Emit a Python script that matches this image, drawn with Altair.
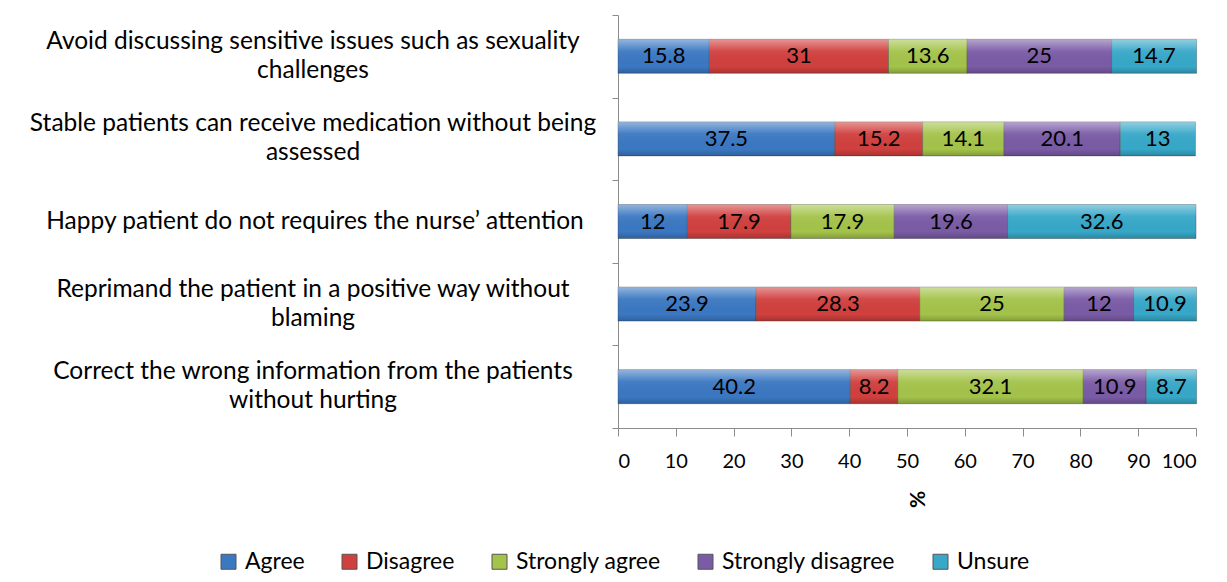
import altair as alt
import pandas as pd

categories = [
    "Avoid discussing sensitive issues such as sexuality|challenges",
    "Stable patients can receive  medication without being|assessed",
    "Happy patient do not requires the nurse’ attention",
    "Reprimand the patient  in a positive way without|blaming",
    "Correct the wrong information from the patients|without hurting",
]
series = ["Agree", "Disagree", "Strongly agree", "Strongly disagree", "Unsure"]
agree = [15.8, 37.5, 12, 23.9, 40.2]
disagree = [31, 15.2, 17.9, 28.3, 8.2]
strongly_agree = [13.6, 14.1, 17.9, 25, 32.1]
strongly_disagree = [25, 20.1, 19.6, 12, 10.9]
unsure = [14.7, 13, 32.6, 10.9, 8.7]
colors = ["#3B78C2", "#D0403E", "#A4C34A", "#7A5BA6", "#37A8C8"]

values = [agree, disagree, strongly_agree, strongly_disagree, unsure]
rows = []
for si, (s, vals) in enumerate(zip(series, values)):
    for c, v in zip(categories, vals):
        rows.append({"category": c, "series": s, "order": si, "value": v})
df = pd.DataFrame(rows)
cat_df = pd.DataFrame({"category": categories})

base = alt.Chart(df).transform_stack(
    stack="value", as_=["x0", "x1"], groupby=["category"],
    sort=[alt.SortField("order", order="ascending")],
).transform_calculate(
    mid="(datum.x0 + datum.x1) / 2", label="'' + datum.value"
)

yscale = alt.Scale(paddingInner=0, paddingOuter=0)
yenc = alt.Y(
    "category:N", sort=categories, scale=yscale,
    axis=alt.Axis(
        title=None, domainColor="#8c8c8c", tickColor="#8c8c8c", tickSize=6,
        tickBand="extent", labels=False,
    ),
)
xscale = alt.Scale(domain=[0, 100], nice=False)
xaxis = alt.Axis(
    values=list(range(0, 101, 10)), grid=False, tickSize=8,
    domainColor="#8c8c8c", tickColor="#8c8c8c", labelFontSize=20,
    labelColor="#000", labelFont="Lato", labelPadding=15,
    title="%", titleFontSize=21, titleFontWeight="bold", titleAngle=270,
    titleColor="#000", titlePadding=28, titleFont="Lato",
)

BAR_H = 34

bars = base.mark_bar(height=BAR_H, stroke="#333", strokeOpacity=0.35, strokeWidth=1).encode(
    x=alt.X("x0:Q", scale=xscale, axis=xaxis),
    x2="x1:Q",
    y=yenc,
    color=alt.Color(
        "series:N", sort=series,
        scale=alt.Scale(domain=series, range=colors),
        legend=alt.Legend(
            title=None, orient="none", direction="horizontal",
            legendX=-401, legendY=535, symbolType="square", symbolSize=225,
            labelFontSize=23, labelFont="Lato", labelColor="#000", labelLimit=0,
            columnPadding=33, labelOffset=5, symbolStrokeWidth=1,
            symbolStrokeColor="#555",
        ),
    ),
)

shine = base.mark_bar(
    height=BAR_H,
    fill=alt.LinearGradient(
        gradient="linear", x1=0, x2=0, y1=0, y2=1,
        stops=[
            alt.GradientStop(offset=0, color="rgba(255,255,255,0.45)"),
            alt.GradientStop(offset=0.35, color="rgba(255,255,255,0.05)"),
            alt.GradientStop(offset=0.8, color="rgba(0,0,0,0.0)"),
            alt.GradientStop(offset=1, color="rgba(0,0,0,0.2)"),
        ],
    ),
).encode(x=alt.X("x0:Q", scale=xscale), x2="x1:Q", y=yenc)

text = base.mark_text(fontSize=22, font="Lato", color="#000", baseline="middle").encode(
    x=alt.X("mid:Q", scale=xscale), y=alt.Y("category:N", sort=categories, scale=yscale),
    text="label:N",
)

ylab_base = alt.Chart(cat_df)
ylab_multi = ylab_base.transform_filter("indexof(datum.category, '|') >= 0").mark_text(
    lineBreak="|", align="center", baseline="middle", fontSize=24.5, font="Lato",
    color="#000", lineHeight=29, dy=-14.5,
).encode(
    x=alt.value(-305), y=alt.Y("category:N", sort=categories, scale=yscale),
    text="category:N",
)
ylab_single = ylab_base.transform_filter("indexof(datum.category, '|') < 0").mark_text(
    align="center", baseline="middle", fontSize=24.5, font="Lato", color="#000",
).encode(
    x=alt.value(-303), y=alt.Y("category:N", sort=categories, scale=yscale),
    text="category:N",
)

chart = alt.layer(bars, shine, text, ylab_multi, ylab_single).properties(
    width=578, height=413,
    autosize=alt.AutoSizeParams(type="none"),
    padding={"left": 610, "top": 7, "right": 23, "bottom": 146},
).configure(font="Lato").configure_view(stroke=None)

chart.save("out.html", embed_options={"renderer": "svg", "actions": False})
